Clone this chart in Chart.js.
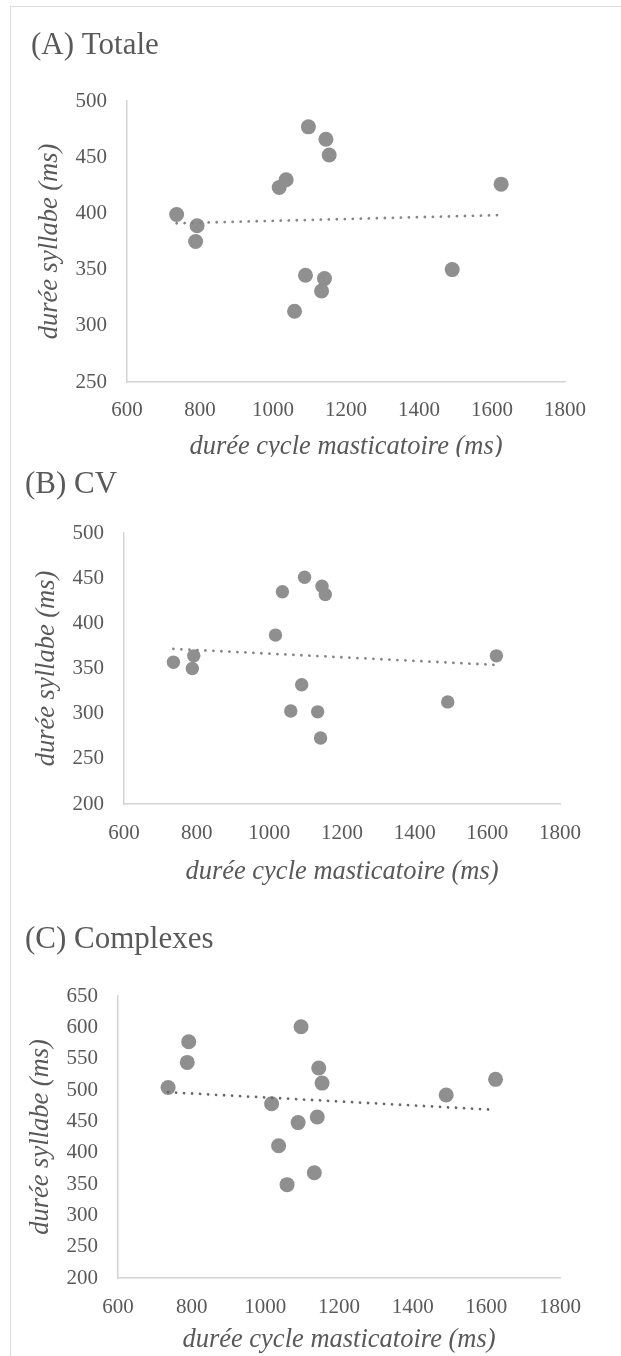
<!DOCTYPE html>
<html>
<head>
<meta charset="utf-8">
<script src="https://cdn.jsdelivr.net/npm/chart.js@4/dist/chart.umd.min.js"></script>
<style>
  body { margin: 0; background: #fff; }
  #page { position: relative; width: 621px; height: 1356px; overflow: hidden; background: #fff; }
  #frame { position: absolute; left: 10px; top: 6px; right: -5px; bottom: -5px;
           border-left: 1px solid #dcdcdc; border-top: 1px solid #dcdcdc; }
  canvas { position: absolute; left: 0; }
</style>
</head>
<body>
<div id="page">
  <div id="frame"></div>
  <canvas id="chartA" width="621" height="457" style="top:0px"></canvas>
  <canvas id="chartB" width="621" height="440" style="top:458px"></canvas>
  <canvas id="chartC" width="621" height="458" style="top:898px"></canvas>
</div>
<script>
// durée du cycle masticatoire (ms), un point par locuteur
const cycle = [736, 792, 788, 1017, 1036, 1059, 1089, 1097, 1133, 1141, 1145, 1154, 1491, 1625]
// durée syllabe (ms)
const syllTotale    = [399, 389, 375, 423, 430, 313, 345, 477, 331, 342, 466, 452, 350, 426]
const syllCV        = [357, 364, 350, 387, 435, 303, 332, 451, 302, 273, 441, 432, 313, 364]
const syllComplexes = [504, 577, 544, 478, 411, 349, 448, 601, 368, 457, 535, 511, 492, 517]

const xTicks  = [600, 800, 1000, 1200, 1400, 1600, 1800]
const yTicksA = [250, 300, 350, 400, 450, 500]
const yTicksB = [200, 250, 300, 350, 400, 450, 500]
const yTicksC = [200, 250, 300, 350, 400, 450, 500, 550, 600, 650]

const serif = "'Liberation Serif', 'Times New Roman', serif"
const ink = '#595959'
Chart.defaults.font.family = serif

// droite de tendance (moindres carrés), comme Excel
const trend = function(xs, ys){
    var n = xs.length
    var mx = xs.reduce((a, b) => a + b, 0) / n
    var my = ys.reduce((a, b) => a + b, 0) / n
    var sxy = 0, sxx = 0
    xs.forEach((x, i) => {
        sxy += (x - mx) * (ys[i] - my)
        sxx += (x - mx) * (x - mx)
    })
    var b = sxy / sxx
    var a = my - b * mx
    var x0 = Math.min(...xs), x1 = Math.max(...xs)
    return [{x: x0, y: a + b * x0}, {x: x1, y: a + b * x1}]
}

const drawScatter = function(canvas_id, title, ys, yTicks, box){
    var ctx = document.getElementById(canvas_id).getContext('2d')
    new Chart(ctx, {
        type: 'scatter',
        data: {
            datasets: [{
                data: trend(cycle, ys),
                showLine: true,
                borderColor: box.trendColor,
                borderWidth: 2.8,
                borderDash: [0.01, 8],
                borderCapStyle: 'round',
                pointRadius: 0,
                order: 0
            }, {
                data: cycle.map((x, i) => ({x: x, y: ys[i]})),
                backgroundColor: '#8f8f8f',
                borderWidth: 0,
                pointRadius: box.r,
                order: 1
            }]
        },
        options: {
            responsive: false,
            animation: false,
            events: [],
            layout: { padding: { left: box.pl, right: box.pr, top: box.pt, bottom: 0 } },
            plugins: {
                legend: { display: false },
                tooltip: { enabled: false },
                title: {
                    display: true,
                    text: title,
                    align: 'start',
                    color: ink,
                    font: { family: serif, size: 31, weight: 'normal', lineHeight: 1.2 },
                    padding: { top: 0, bottom: box.titleGap }
                }
            },
            scales: {
                x: {
                    type: 'linear',
                    min: 600, max: 1800,
                    grid: { display: false, drawTicks: false },
                    border: { color: '#d4d4d4', width: 1.5 },
                    afterBuildTicks: s => { s.ticks = xTicks.map(v => ({value: v})) },
                    ticks: { color: ink, font: { size: 21 }, padding: box.xTickPad, maxRotation: 0,
                             callback: v => String(v) },
                    title: {
                        display: true,
                        text: 'durée cycle masticatoire (ms)',
                        color: ink,
                        font: { size: 26.5, style: 'italic', lineHeight: 1.2 },
                        padding: { top: 0, bottom: box.xTitlePad }
                    },
                    afterFit: s => { s.height = box.xh; s.paddingLeft = 0; s.paddingRight = 0 }
                },
                y: {
                    type: 'linear',
                    min: yTicks[0], max: yTicks[yTicks.length - 1],
                    grid: { display: false, drawTicks: false },
                    border: { color: '#d4d4d4', width: 1.5 },
                    afterBuildTicks: s => { s.ticks = yTicks.map(v => ({value: v})) },
                    ticks: { color: ink, font: { size: 21 }, padding: 20, callback: v => String(v) },
                    title: {
                        display: true,
                        text: 'durée syllabe (ms)',
                        color: ink,
                        font: { size: 26.5, style: 'italic', lineHeight: 1.2 },
                        padding: { top: box.yTitlePad, bottom: 0 }
                    },
                    afterFit: s => { s.width = box.yw; s.paddingTop = 0; s.paddingBottom = 0 }
                }
            }
        }
    })
}

// le graphique (A) est rogné sous le titre de l'axe x, comme dans la figure
drawScatter('chartA', '(A) Totale', syllTotale, yTicksA, {
    pl: 31, pr: 56, pt: 26.9, titleGap: 36.9, yw: 96, xh: 75,
    xTickPad: 15.4, xTitlePad: -5.9, yTitlePad: 3.6, r: 7.5, trendColor: '#858585'
})
drawScatter('chartB', '(B) CV', syllCV, yTicksB, {
    pl: 25, pr: 61, pt: 8.4, titleGap: 29.4, yw: 99, xh: 94,
    xTickPad: 16.4, xTitlePad: 10.1, yTitlePad: 6.6, r: 6.7, trendColor: '#858585'
})
drawScatter('chartC', '(C) Complexes', syllComplexes, yTicksC, {
    pl: 25, pr: 61, pt: 23.4, titleGap: 37.4, yw: 93, xh: 78,
    xTickPad: 16.4, xTitlePad: 0.1, yTitlePad: 0, r: 7.5, trendColor: '#6b6565'
})
</script>
</body>
</html>
